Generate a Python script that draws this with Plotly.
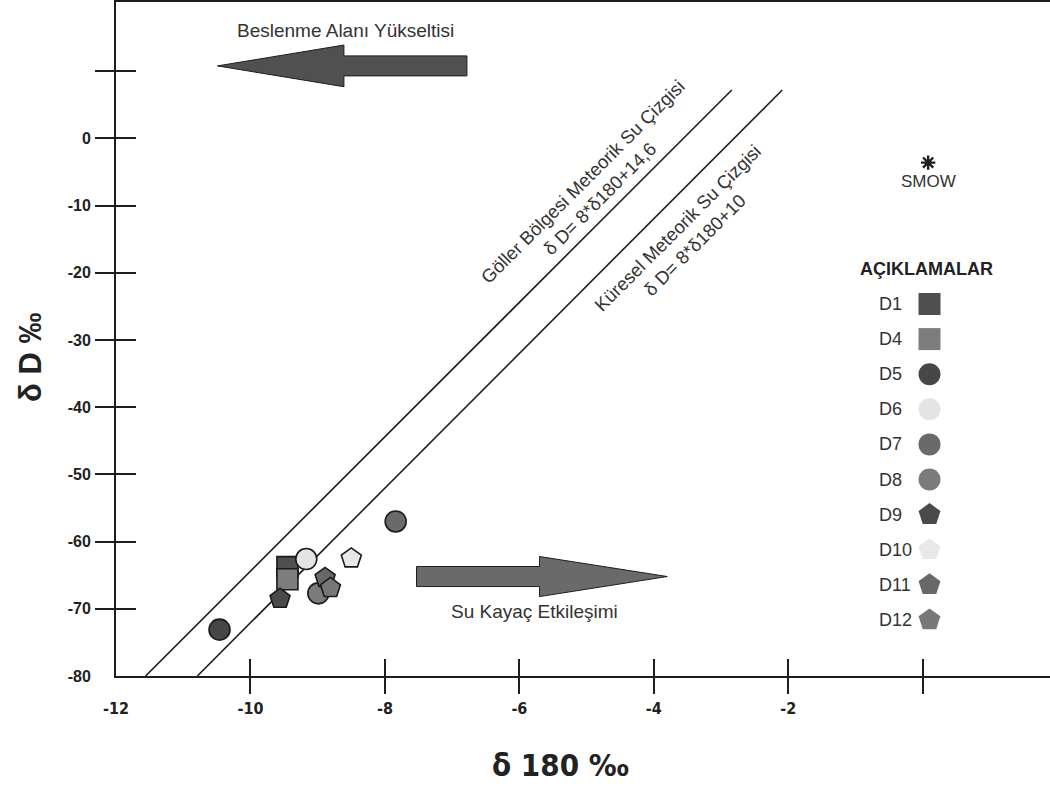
import plotly.graph_objects as go

# ---- data ----
names = ["D1", "D4", "D5", "D6", "D7", "D8", "D9", "D10", "D11", "D12"]
d18O = [-9.45, -9.45, -10.46, -9.17, -7.84, -8.99, -9.56, -8.50, -8.89, -8.81]
dD = [-63.8, -65.6, -73.1, -62.6, -57.0, -67.7, -68.5, -62.5, -65.4, -66.9]
symbols = ["square", "square", "circle", "circle", "circle", "circle",
           "pentagon", "pentagon", "pentagon", "pentagon"]
colors = ["#4f4f4f", "#7d7d7d", "#474747", "#e4e4e4", "#6a6a6a", "#7b7b7b",
          "#4a4a4a", "#e8e8e8", "#686868", "#787878"]

# SMOW reference point (as drawn)
smow_x = [0.08]
smow_y = [-3.6]

# meteoric water lines (as drawn)
gmwl_x = [-11.56, -2.84]
gmwl_y = [-80, 7.2]
kmwl_x = [-10.79, -2.09]
kmwl_y = [-80, 7.2]

x_tickvals = [-12, -10, -8, -6, -4, -2, 0]
x_ticktext = ["-12", "-10", "-8", "-6", "-4", "-2", ""]
x_tickmarks = [-10, -8, -6, -4, -2, 0]
y_tickvals = [-80, -70, -60, -50, -40, -30, -20, -10, 0, 10]
y_ticktext = ["-80", "-70", "-60", "-50", "-40", "-30", "-20", "-10", "0", ""]
y_tickmarks = [-70, -60, -50, -40, -30, -20, -10, 0, 10]

# arrows: tail, head base, tip, centre y, shaft half height, head half height
arrow_top = dict(tail=-6.78, base=-8.61, tip=-10.49, yc=10.79, sh=1.49, hh=3.1, fill="#505050")
arrow_bot = dict(tail=-7.53, base=-5.70, tip=-3.80, yc=-65.2, sh=1.49, hh=2.98, fill="#6a6a6a")

FONT = "Liberation Sans"
TXT = "#333333"

fig = go.Figure()

# lines
for lx, ly in [(gmwl_x, gmwl_y), (kmwl_x, kmwl_y)]:
    fig.add_trace(go.Scatter(x=lx, y=ly, mode="lines",
                             line=dict(color="#1e1e1e", width=1.6),
                             showlegend=False, hoverinfo="skip"))

# data points
for n, xv, yv, s, c in zip(names, d18O, dD, symbols, colors):
    fig.add_trace(go.Scatter(x=[xv], y=[yv], mode="markers", name=n,
                             marker=dict(symbol=s, size=21, color=c,
                                         line=dict(color="#1a1a1a", width=1.6)),
                             showlegend=False))

# SMOW
fig.add_trace(go.Scatter(x=smow_x, y=smow_y, mode="markers", name="SMOW",
                         marker=dict(symbol="asterisk-open", size=12, color="#1e1e1e",
                                     line=dict(color="#1e1e1e", width=2.4)),
                         showlegend=False))

# dummy traces for the tick-mark overlay axes
for xa, ya in [("x2", "y"), ("x3", "y"), ("x", "y2"), ("x", "y3")]:
    fig.add_trace(go.Scatter(x=[None], y=[None], xaxis=xa, yaxis=ya,
                             showlegend=False, hoverinfo="skip"))

# legend (custom, on hidden overlay axes)
annotations = []
for i, (n, s, c) in enumerate(zip(names, symbols, colors)):
    fig.add_trace(go.Scatter(x=[813.5], y=[i], xaxis="x4", yaxis="y4",
                             mode="markers",
                             marker=dict(symbol=s, size=22 if s != "pentagon" else 23,
                                         color=c, opacity=1, line=dict(width=0)),
                             showlegend=False, hoverinfo="skip"))
    annotations.append(dict(x=761, y=i, xref="x4", yref="y4", text=n,
                            showarrow=False, xanchor="left", yanchor="middle",
                            font=dict(family=FONT, size=18, color=TXT)))
annotations.append(dict(x=810, y=-1.0, xref="x4", yref="y4", text="<b>AÇIKLAMALAR</b>",
                        showarrow=False, xanchor="center", yanchor="middle",
                        font=dict(family=FONT, size=18, color="#222222")))

annotations.append(dict(x=0.08, y=-6.4, text="SMOW", showarrow=False,
                        font=dict(family=FONT, size=17, color=TXT)))

# arrow labels
annotations.append(dict(x=-8.59, y=16.0, text="Beslenme Alanı Yükseltisi", showarrow=False,
                        font=dict(family=FONT, size=19, color=TXT)))
annotations.append(dict(x=-5.78, y=-70.4, text="Su Kayaç Etkileşimi", showarrow=False,
                        font=dict(family=FONT, size=19, color=TXT)))

# rotated line labels
annotations.append(dict(x=-4.92, y=-7.66, textangle=-45,
                        text="Göller Bölgesi Meteorik Su Çizgisi<br>δ D= 8*δ180+14,6",
                        showarrow=False, font=dict(family=FONT, size=18.5, color=TXT)))
annotations.append(dict(x=-3.52, y=-14.58, textangle=-45,
                        text="Küresel Meteorik Su Çizgisi<br>δ D= 8*δ180+10",
                        showarrow=False, font=dict(family=FONT, size=18.5, color=TXT)))

# axis titles
annotations.append(dict(x=-0.091, y=0.472, xref="paper", yref="paper", textangle=-90,
                        xanchor="center", yanchor="middle",
                        text="<b>δ D ‰</b>", showarrow=False,
                        font=dict(family=FONT, size=31, color="#222222")))
annotations.append(dict(x=0.476, y=-0.132, xref="paper", yref="paper",
                        xanchor="center", yanchor="middle",
                        text="<b>δ 180 ‰</b>", showarrow=False,
                        font=dict(family="DejaVu Sans Condensed", size=31, color="#222222")))

shapes = []
for a in (arrow_top, arrow_bot):
    p = (f"M {a['tail']},{a['yc'] + a['sh']} L {a['base']},{a['yc'] + a['sh']} "
         f"L {a['base']},{a['yc'] + a['hh']} L {a['tip']},{a['yc']} "
         f"L {a['base']},{a['yc'] - a['hh']} L {a['base']},{a['yc'] - a['sh']} "
         f"L {a['tail']},{a['yc'] - a['sh']} Z")
    shapes.append(dict(type="path", path=p, xref="x", yref="y",
                       fillcolor=a["fill"], line=dict(color="#1e1e1e", width=1)))

XMAX = -12 + 934 / 67.23
YMAX = -80 + 674 / 6.72
axis_common = dict(showgrid=False, zeroline=False)

fig.update_layout(
    width=1050, height=792,
    margin=dict(l=116, r=0, t=2, b=116),
    paper_bgcolor="white", plot_bgcolor="white",
    showlegend=False,
    annotations=annotations, shapes=shapes,
    xaxis=dict(range=[-12, XMAX], tickvals=x_tickvals, ticktext=x_ticktext,
               ticks="outside", ticklen=17, tickcolor="rgba(0,0,0,0)",
               showline=True, linecolor="#1e1e1e", linewidth=2, mirror=True,
               tickfont=dict(family="DejaVu Sans Condensed", size=16, color="#222222", weight="bold"),
               **axis_common),
    xaxis2=dict(overlaying="x", matches="x", anchor="y", side="bottom",
                tickvals=x_tickmarks, ticks="outside", ticklen=17, tickwidth=1.6,
                tickcolor="#1e1e1e", showticklabels=False, showline=False, **axis_common),
    xaxis3=dict(overlaying="x", matches="x", anchor="y", side="bottom",
                tickvals=x_tickmarks, ticks="inside", ticklen=17, tickwidth=1.6,
                tickcolor="#1e1e1e", showticklabels=False, showline=False, **axis_common),
    yaxis=dict(range=[-80, YMAX], tickvals=y_tickvals, ticktext=y_ticktext,
               ticks="outside", ticklen=20, tickcolor="rgba(0,0,0,0)",
               showline=True, linecolor="#1e1e1e", linewidth=2,
               tickfont=dict(family=FONT, size=16, color="#222222", weight="bold"),
               **axis_common),
    yaxis2=dict(overlaying="y", matches="y", anchor="x", side="left",
                tickvals=y_tickmarks, ticks="outside", ticklen=20, tickwidth=1.6,
                tickcolor="#1e1e1e", showticklabels=False, showline=False, **axis_common),
    yaxis3=dict(overlaying="y", matches="y", anchor="x", side="left",
                tickvals=y_tickmarks, ticks="inside", ticklen=20, tickwidth=1.6,
                tickcolor="#1e1e1e", showticklabels=False, showline=False, **axis_common),
    xaxis4=dict(overlaying="x", range=[0, 934], visible=False, **axis_common),
    yaxis4=dict(overlaying="y", range=[(676 - 304) / 35.1, (2 - 304) / 35.1],
                visible=False, **axis_common),
)

fig.write_html("out.html", config={"displayModeBar": False},
               post_script="document.body.style.margin='0';document.body.style.padding='0';")
